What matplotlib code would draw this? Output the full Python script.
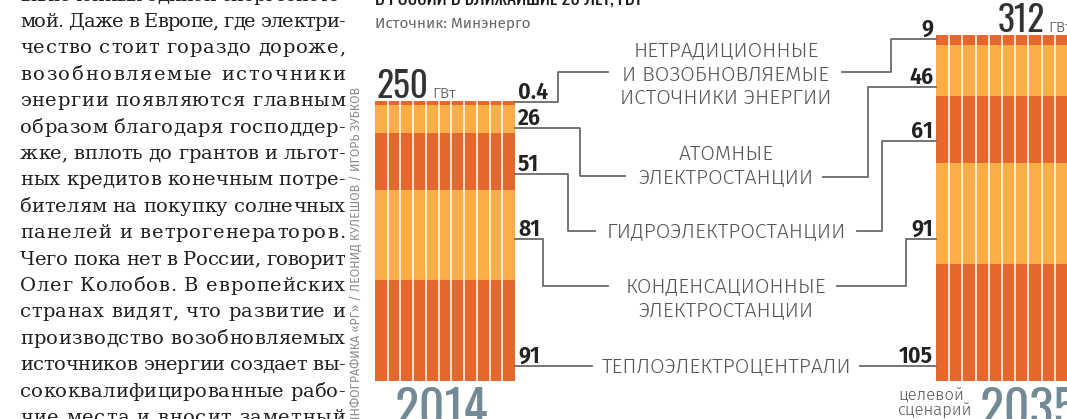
import numpy as np
import matplotlib
matplotlib.use('Agg')
import matplotlib.pyplot as plt

# --- data ---
years = ['2014', '2035']
totals = [250, 312]
categories = ['ТЕПЛОЭЛЕКТРОЦЕНТРАЛИ',
              'КОНДЕНСАЦИОННЫЕ\nЭЛЕКТРОСТАНЦИИ',
              'ГИДРОЭЛЕКТРОСТАНЦИИ',
              'АТОМНЫЕ\nЭЛЕКТРОСТАНЦИИ',
              'НЕТРАДИЦИОННЫЕ\nИ ВОЗОБНОВЛЯЕМЫЕ\nИСТОЧНИКИ ЭНЕРГИИ']
cap_2014 = [91, 81, 51, 26, 0.4]
cap_2035 = [105, 91, 61, 46, 9]

title = 'В РОССИИ В БЛИЖАЙШИЕ 20 ЛЕТ, ГВТ'
source = 'Источник: Минэнерго'
credit = 'ИНФОГРАФИКА «РГ» / ЛЕОНИД КУЛЕШОВ / ИГОРЬ ЗУБКОВ'
body_lines = [
    'включенных единой энергосисте-',
    'мой. Даже в Европе, где электри-',
    'чество стоит гораздо дороже,',
    'возобновляемые источники',
    'энергии появляются главным',
    'образом благодаря господдер-',
    'жке, вплоть до грантов и льгот-',
    'ных кредитов конечным потре-',
    'бителям на покупку солнечных',
    'панелей и ветрогенераторов.',
    'Чего пока нет в России, говорит',
    'Олег Колобов. В европейских',
    'странах видят, что развитие и',
    'производство возобновляемых',
    'источников энергии создает вы-',
    'сококвалифицированные рабо-',
    'чие места и вносит заметный',
]

# --- style ---
DARK, LIGHT = '#e4672e', '#f9ae48'
seg_colors = [DARK, LIGHT, DARK, LIGHT, DARK]
LINE = '#6a6a6a'
YEAR = '#728a96'
COND = ['Oswald', 'Fira Sans Extra Condensed', 'DejaVu Sans']
NUM = ['Fira Sans Condensed', 'DejaVu Sans']
SANS = ['Fira Sans', 'DejaVu Sans']
SERIF = ['DejaVu Serif']

W, H = 1067, 419
BASE, S = 381, 1.11   # pixel row of 0 GW, pixels per GW


def py(p):
    return (BASE - p) / S


fig = plt.figure(figsize=(W / 100, H / 100), dpi=100)
ax = fig.add_axes([0, 0, 1, 1])
ax.set_xlim(0, W)
ax.set_ylim(py(H), py(0))
ax.axis('off')

# stacked bars, split into narrow columns by white lines
bars = [(375, 140, 11, cap_2014), (936, 132, 10, cap_2035)]
for x0, bw, ncol, vals in bars:
    disp = np.maximum(vals, 3.5)  # keep the tiny segment visible
    bottoms = np.concatenate([[0], np.cumsum(disp)[:-1]])
    ax.bar([x0] * len(vals), disp, bottom=bottoms, width=bw, align='edge',
           color=seg_colors, linewidth=0)
    top = bottoms[-1] + disp[-1]
    for k in range(1, ncol):
        xx = x0 + k * bw / ncol
        ax.plot([xx, xx], [0, top], color='white', lw=1.3, alpha=0.85)

# leader lines: (line row, elbow x, label row, end x)
left_leaders = [(366, None, 366, 592), (239, 543, 286, 608), (174, 568, 231, 595),
                (128, 580, 176, 625), (102, 558, 72, 608)]
right_leaders = [(366, None, 366, 860), (239, 906, 286, 837), (141, 882, 231, 857),
                 (87, 868, 177, 823), (39, 891, 72, 842)]

for vals, leaders, xb, xt, ha in [(cap_2014, left_leaders, 515, 518, 'left'),
                                   (cap_2035, right_leaders, 936, 933, 'right')]:
    for v, (yl, xe, ylab, xend) in zip(vals, leaders):
        if xe is None:
            ax.plot([xb, xend], [py(yl), py(yl)], color=LINE, lw=1.3)
        else:
            ax.plot([xb, xe, xe, xend], [py(yl), py(yl), py(ylab), py(ylab)],
                    color=LINE, lw=1.3)
        ax.text(xt, py(yl - 3), f'{v:g}', ha=ha, va='baseline', fontsize=17,
                family=NUM, weight='semibold', color='#222222')

# category labels in the middle
label_rows = [[366], [286, 310], [231], [153, 177], [50, 74, 97]]
for cat, rows in zip(categories, label_rows):
    for part, r in zip(cat.split('\n'), rows):
        ax.text(726, py(r + 6.5), part, ha='center', va='baseline', fontsize=15.2,
                family=SANS, weight=300, color='#555555')

fig.canvas.draw()
rend = fig.canvas.get_renderer()

# totals with unit right after the number
for tot, xn, yb in [(totals[0], 377, 98), (totals[1], 998, 32)]:
    t = ax.text(xn, py(yb), f'{tot}', fontsize=25.5, family=COND, weight=200,
                color='#333333', va='baseline')
    x_end = xn + t.get_window_extent(rend).width
    ax.text(x_end + 3, py(yb), 'ГВт', fontsize=11, family=SANS, weight=300,
            color='#444444', va='baseline')

ax.text(395, py(427), years[0], fontsize=36, family=COND, weight='bold',
        color=YEAR, va='baseline')
ax.text(980, py(427), years[1], fontsize=36, family=COND, weight='bold',
        color=YEAR, va='baseline')
ax.text(898, py(400), 'целевой', fontsize=12, family=SANS, weight=300,
        color='#555555', va='baseline')
ax.text(898, py(416), 'сценарий', fontsize=12, family=SANS, weight=300,
        color='#555555', va='baseline')

# header bits
ax.text(375, py(5), title, fontsize=13.3, family=COND, weight='bold',
        color='#1a1a1a', va='baseline')
ax.text(375, py(27), source, fontsize=11, family=SANS, color='#666666',
        va='baseline')
ax.text(356, py(87), credit, rotation=90, ha='center', va='top', fontsize=8.9,
        family=SANS, color='#8c8c8c')

# body text column on the left, justified by letter spacing
BODY_FS = 14
x_left, x_right = 20, 345
cw = {}


def char_width(c):
    if c not in cw:
        if c == ' ':
            a = ax.text(0, 0, 'н н', fontsize=BODY_FS, family=SERIF)
            b = ax.text(0, 0, 'нн', fontsize=BODY_FS, family=SERIF)
            cw[c] = a.get_window_extent(rend).width - b.get_window_extent(rend).width
            a.remove()
            b.remove()
        else:
            t = ax.text(0, 0, c, fontsize=BODY_FS, family=SERIF)
            cw[c] = t.get_window_extent(rend).width
            t.remove()
    return cw[c]


for i, line in enumerate(body_lines):
    yb = 27 + 26.4 * (i - 1)
    widths = [char_width(c) for c in line]
    track = (x_right - x_left - sum(widths)) / (len(line) - 1)
    x = x_left
    for c, w in zip(line, widths):
        if c != ' ':
            ax.text(x, py(yb), c, fontsize=BODY_FS, family=SERIF,
                    color='#1f1f1f', va='baseline')
        x += w + track

fig.savefig('out.png', dpi=100)
